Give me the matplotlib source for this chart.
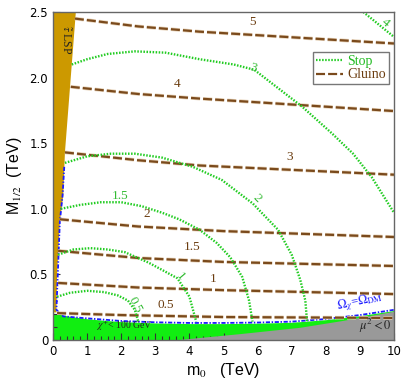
import matplotlib
matplotlib.use("Agg")
import matplotlib.pyplot as plt
from matplotlib.lines import Line2D
from matplotlib.ticker import MultipleLocator

plt.rcParams['lines.scale_dashes'] = False
plt.rcParams['mathtext.fontset'] = 'stix'

# ---------------- data (m0 [TeV], M1/2 [TeV]) ----------------
gluino_levels = ["0.5", "1", "1.5", "2", "3", "4", "5"]
gluino_m0 = [
    [0.12, 2.0, 5.0, 10.0],
    [0.15, 2.5, 5.0, 10.0],
    [0.15, 2.5, 5.0, 10.0],
    [0.2, 2.5, 5.0, 10.0],
    [0.35, 2.5, 4.3, 10.0],
    [0.52, 2.5, 4.3, 10.0],
    [0.64, 2.5, 4.3, 10.0],
]
gluino_M = [
    [0.205, 0.19, 0.175, 0.168],
    [0.435, 0.40, 0.38, 0.35],
    [0.68, 0.625, 0.595, 0.564],
    [0.92, 0.865, 0.83, 0.785],
    [1.43, 1.37, 1.33, 1.26],
    [1.93, 1.875, 1.84, 1.745],
    [2.45, 2.39, 2.35, 2.26],
]
gluino_label_pos = [(3.31, 0.222), (4.69, 0.42), (4.08, 0.66), (2.76, 0.915),
                    (6.95, 1.35), (3.64, 1.905), (5.86, 2.375)]

stop_levels = ["0.5", "1", "1.5", "2", "3", "4"]
stop_m0 = [
    [0.12, 0.5, 1.0, 1.5, 1.9, 2.2, 2.4, 2.5],
    [0.15, 0.6, 1.1, 1.6, 2.1, 2.8, 3.3, 3.65, 4.0, 4.2],
    [0.23, 0.8, 1.4, 2.0, 2.6, 3.2, 3.7, 4.3, 4.8, 5.2, 5.55, 5.75, 5.85],
    [0.35, 1.0, 1.7, 2.4, 3.2, 4.1, 4.95, 5.86, 6.6, 7.0, 7.25, 7.4, 7.45],
    [0.55, 1.0, 1.6, 2.4, 3.3, 4.3, 5.3, 5.9, 6.6, 7.3, 8.2, 8.8, 9.35, 10.0],
    [9.1, 10.0],
]
stop_M = [
    [0.33, 0.36, 0.375, 0.365, 0.34, 0.30, 0.23, 0.14],
    [0.65, 0.69, 0.70, 0.69, 0.67, 0.59, 0.52, 0.47, 0.33, 0.14],
    [1.0, 1.03, 1.05, 1.05, 1.02, 0.97, 0.92, 0.84, 0.74, 0.63, 0.48, 0.30, 0.14],
    [1.35, 1.40, 1.42, 1.42, 1.39, 1.32, 1.22, 1.04, 0.84, 0.65, 0.46, 0.30, 0.14],
    [2.10, 2.14, 2.18, 2.20, 2.19, 2.14, 2.10, 2.06, 1.92, 1.78, 1.57, 1.42, 1.24, 0.97],
    [2.5, 2.31],
]
stop_label_pos = [(2.40, 0.27), (3.72, 0.48), (1.96, 1.10), (5.98, 1.08), (5.86, 2.07), (9.74, 2.42)]
stop_label_rot = [-62, -50, 0, -45, -15, -40]

# excluded regions
stau_m0 = [0.0, 0.0, 0.67, 0.35, 0.30, 0.20, 0.12, 0.10]
stau_M = [0.21, 2.5, 2.5, 1.43, 1.10, 0.90, 0.50, 0.21]

chargino_m0 = [0.0, 0.5, 1.0, 1.5, 2.0, 3.0, 4.0, 5.0, 6.0, 7.0, 8.0, 9.0, 10.0]
chargino_M = [0.205, 0.18, 0.162, 0.15, 0.14, 0.13, 0.125, 0.125, 0.128, 0.135, 0.155, 0.185, 0.225]

mu_m0 = [3.7, 4.3, 5.5, 7.25, 8.5, 10.0, 10.0]
mu_M = [0.0, 0.015, 0.045, 0.093, 0.145, 0.215, 0.0]

relic_m0 = [0.33, 0.28, 0.20, 0.14, 0.10, 0.3, 1.0, 2.0, 3.0, 4.0, 5.0, 6.0, 7.0, 8.0, 9.0, 10.0]
relic_M = [1.32, 1.10, 0.90, 0.50, 0.23, 0.18, 0.165, 0.145, 0.135, 0.13, 0.13, 0.133, 0.14, 0.16, 0.19, 0.23]

# ---------------- style ----------------
brown = '#7a4a1c'
brown_halo = '#e6d2b8'
green_line = '#22cc22'
green_fill = '#11ee11'
gold = '#cc9900'
gray = '#999999'

fig = plt.figure(figsize=(4.07, 3.91), dpi=100)
ax = fig.add_axes([53/407, 51/391, 341/407, 328/391])
ax.set_xlim(0, 10)
ax.set_ylim(0, 2.5)

# regions
ax.fill(stau_m0, stau_M, color=gold, lw=0, zorder=2)
ax.fill_between(chargino_m0, 0, chargino_M, color=green_fill, lw=0, zorder=1)
ax.fill(mu_m0, mu_M, color=gray, lw=0, zorder=2)
ax.plot(relic_m0, relic_M, color='#1a1aff', lw=1.3, ls=(0, (3, 1.2, 1, 1.2)), zorder=3)

serif = ['Liberation Serif', 'DejaVu Serif']

# gluino
for lev, xs, ys, (lx, ly) in zip(gluino_levels, gluino_m0, gluino_M, gluino_label_pos):
    ax.plot(xs, ys, color=brown_halo, lw=2.6, dashes=(6.5, 2.2), zorder=4, solid_capstyle='butt')
    ax.plot(xs, ys, color=brown, lw=1.6, dashes=(6.5, 2.2), zorder=5)
    ax.text(lx, ly, lev, color='#6b3d10', fontsize=9.5, family=serif, ha='center', va='bottom', zorder=6)

# stop
for lev, xs, ys, (lx, ly), rot in zip(stop_levels, stop_m0, stop_M, stop_label_pos, stop_label_rot):
    ax.plot(xs, ys, color=green_line, lw=1.7, dashes=(1.1, 1.1), zorder=5)
    ax.text(lx, ly, lev, color='#33bb33', fontsize=9.5, family=serif, ha='center', va='center',
            rotation=rot, zorder=6)

# annotations
ax.text(0.35, 2.29, r'$\tilde{\tau}$ LSP', rotation=-90, fontsize=8.5, family=serif,
        ha='center', va='center', color='#222222', zorder=7)
ax.text(2.1, 0.105, r'$\chi^{+}$< 100 GeV', fontsize=7, family=serif,
        ha='center', va='center', color='#222222', zorder=7)
ax.text(9.0, 0.29, r'$\Omega_{\chi}$=$\Omega_{\rm DM}$', fontsize=9, family=serif,
        ha='center', va='center', color='#1a1aff', rotation=12, zorder=7)
ax.text(9.45, 0.105, r'$\mu^{2}<0$', fontsize=9, family=serif,
        ha='center', va='center', color='#222222', zorder=7)

# legend
handles = [Line2D([], [], color=green_line, lw=1.6, dashes=(1.1, 1.1)),
           Line2D([], [], color=brown, lw=1.6, dashes=(6.5, 2.2))]
leg = ax.legend(handles, ['Stop', 'Gluino'], loc='upper right', bbox_to_anchor=(0.985, 0.878),
                prop={'family': serif, 'size': 10}, frameon=True, fancybox=False,
                handlelength=2.0, handletextpad=0.3, borderpad=0.2, labelspacing=0.05,
                borderaxespad=0.0)
leg.get_frame().set_edgecolor('#555555')
leg.get_frame().set_linewidth(1.0)
for t, c in zip(leg.get_texts(), ['#22bb22', '#6b3d10']):
    t.set_color(c)
leg.set_zorder(10)

# axes
ax.xaxis.set_major_locator(MultipleLocator(1))
ax.xaxis.set_minor_locator(MultipleLocator(0.2))
ax.yaxis.set_major_locator(MultipleLocator(0.5))
ax.yaxis.set_minor_locator(MultipleLocator(0.1))
ax.tick_params(which='both', direction='in', top=False, right=False, colors='#333333',
               labelcolor='black', labelsize=8.5, zorder=8)
ax.tick_params(which='major', length=5, width=0.8)
ax.tick_params(which='minor', length=3, width=0.8)
ax.set_xticks(range(0, 11))
ax.set_xticklabels([str(i) for i in range(0, 11)])
ax.set_yticks([0, 0.5, 1.0, 1.5, 2.0, 2.5])
ax.set_yticklabels(['0', '0.5', '1.0', '1.5', '2.0', '2.5'])
for s in ax.spines.values():
    s.set_color('#666666')
    s.set_linewidth(1.0)
    s.set_zorder(9)

ax.set_xlabel(r'm$_0$   (TeV)', fontsize=11.5, family=['Liberation Sans', 'DejaVu Sans'], labelpad=2)
ax.set_ylabel(r'M$_{1/2}$  (TeV)', fontsize=11.5, family=['Liberation Sans', 'DejaVu Sans'], labelpad=4)

fig.savefig('out.png', dpi=100)
